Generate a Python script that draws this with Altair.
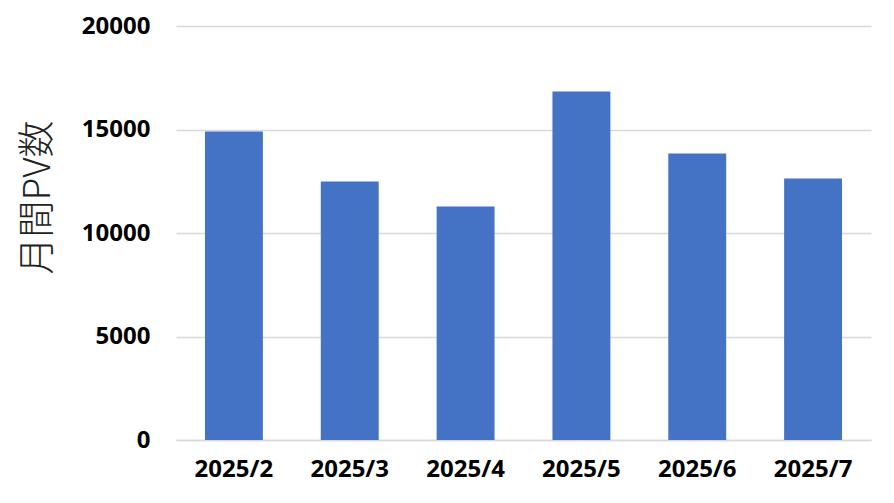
import altair as alt
import pandas as pd

months = ["2025/2", "2025/3", "2025/4", "2025/5", "2025/6", "2025/7"]
pv = [14900, 12490, 11280, 16840, 13840, 12630]
y_ticks = [0, 5000, 10000, 15000, 20000]

df = pd.DataFrame({"month": months, "pv": pv})

font = "Noto Sans CJK JP"
num_font = "Noto Sans"

chart = alt.Chart(df).mark_bar(color="#4472C4").encode(
    x=alt.X("month:N", sort=months,
            scale=alt.Scale(paddingInner=0.5, paddingOuter=0.25),
            axis=alt.Axis(title=None, labelAngle=0, labelFont=num_font, labelFontSize=24,
                          labelFontWeight="bold", labelColor="#000000", labelPadding=17,
                          ticks=False, domainColor="#D9D9D9", domainWidth=1.5)),
    y=alt.Y("pv:Q", scale=alt.Scale(domain=[0, 20000]),
            axis=alt.Axis(title="月間PV数", values=y_ticks, format="d",
                          labelFont=num_font, labelFontSize=24,
                          labelFontWeight="bold", labelColor="#000000", labelPadding=26,
                          ticks=False, domain=False, gridColor="#D9D9D9", gridWidth=1.5,
                          titleFont=font, titleFontSize=37, titleFontWeight=300,
                          titleColor="#222222", titleAngle=270, titleX=-138, titleY=171,
                          titleAlign="center", titleBaseline="middle")),
).properties(
    width=695, height=414,
    autosize=alt.AutoSizeParams(type="none"),
    padding={"left": 168, "top": 18, "right": 10, "bottom": 60},
).configure_view(stroke=None)

chart.save("out.html", embed_options={"renderer": "svg", "actions": False})
